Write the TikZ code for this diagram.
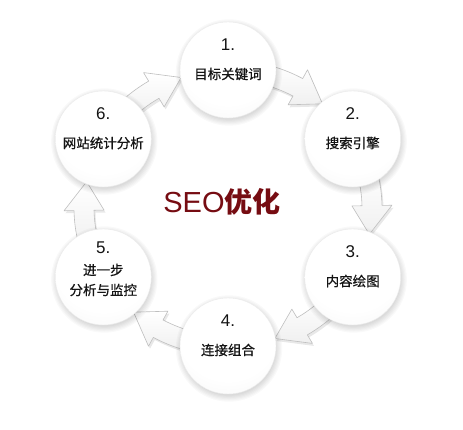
\documentclass[tikz,border=0pt]{standalone}
\usepackage{fontspec}
\setmainfont{Liberation Sans}
\newfontfamily\cjk{Noto Sans CJK SC}
\newfontfamily\cjkl{Noto Sans CJK SC}[FakeBold=0.6]
\usetikzlibrary{calc}
\definecolor{seored}{RGB}{118,12,18}
\pgfdeclareradialshading{sphere}{\pgfpoint{0bp}{12bp}}{color(0bp)=(white); color(26bp)=(white); color(42bp)=(black!4); color(52bp)=(black!11); color(62bp)=(black!22); color(80bp)=(black!25)}
\tikzset{
  ball/.style={circle, minimum size=96pt, inner sep=0pt, shading=sphere, draw=black!8, line width=0.4pt},
  num/.style={font=\fontsize{17}{17}\selectfont, text=black!92},
  lbl/.style={font=\cjkl\fontsize{13.5}{20}\selectfont, text=black!92, align=center},
  arrowband/.style={top color=white, bottom color=black!6, draw=black!25, line width=0.6pt, line join=round},
  arrowshadow/.style={fill=black, opacity=0.09},
}
\newcommand{\ringarrow}[5]{%
  \begin{scope}[shift={#2}]
    \path[#1] (#3:154 and 148) arc[start angle=#3, end angle=#4, x radius=154, y radius=148]
      -- (#4:164 and 158) -- (#5:144 and 138) -- (#4:124 and 118) -- (#4:134 and 128)
      arc[start angle=#4, end angle=#3, x radius=134, y radius=128] -- cycle;
  \end{scope}}
\begin{document}
\begin{tikzpicture}[x=1pt,y=1pt]
\useasboundingbox (0,0) rectangle (463,429);
\fill[white] (0,0) rectangle (463,429);
\coordinate (C) at (228,221);
\foreach \i/\a in {1/90,2/30,3/-30,4/-90,5/-150,6/150}
  \coordinate (p\i) at ($(C)+(\a:144 and 138)$);
% arrows
\foreach \a in {90,30,-30,-90,-150,150}{
  \pgfmathsetmacro\s{\a-14}
  \pgfmathsetmacro\b{\a-29}
  \pgfmathsetmacro\t{\a-41}
  \ringarrow{arrowshadow}{(229.5,218.5)}{\s}{\b}{\t}
  \ringarrow{arrowband}{(228,221)}{\s}{\b}{\t}
}
% ball shadows
\foreach \i in {1,...,6}{
  \foreach \k in {1,...,6}
    \fill[black, opacity=0.022] ($(p\i)+(1,-2.5)$) circle[radius=46+\k*1.2];
}
\foreach \i in {1,...,6}
  \node[ball] (n\i) at (p\i) {};
\node[num] (m1) at ($(p1)+(0,25)$) {1.};
\node[lbl] (t1) at ($(p1)+(0,-4)$) {目标关键词};
\node[num] (m2) at ($(p2)+(0,25)$) {2.};
\node[lbl] (t2) at ($(p2)+(0,-4)$) {搜索引擎};
\node[num] (m3) at ($(p3)+(0,25)$) {3.};
\node[lbl] (t3) at ($(p3)+(0,-4)$) {内容绘图};
\node[num] (m4) at ($(p4)+(0,25)$) {4.};
\node[lbl] (t4) at ($(p4)+(0,-4)$) {连接组合};
\node[num] (m5) at ($(p5)+(0,29)$) {5.};
\node[lbl] (t5) at ($(p5)+(0,-3)$) {进一步\\分析与监控};
\node[num] (m6) at ($(p6)+(0,25)$) {6.};
\node[lbl] (t6) at ($(p6)+(0,-4)$) {网站统计分析};
\node[text=seored, inner sep=0pt] (seo) at (222,227)
  {\fontsize{29}{29}\selectfont SEO{\cjk\bfseries\fontsize{28}{28}\selectfont 优化}};
\end{tikzpicture}
\end{document}
